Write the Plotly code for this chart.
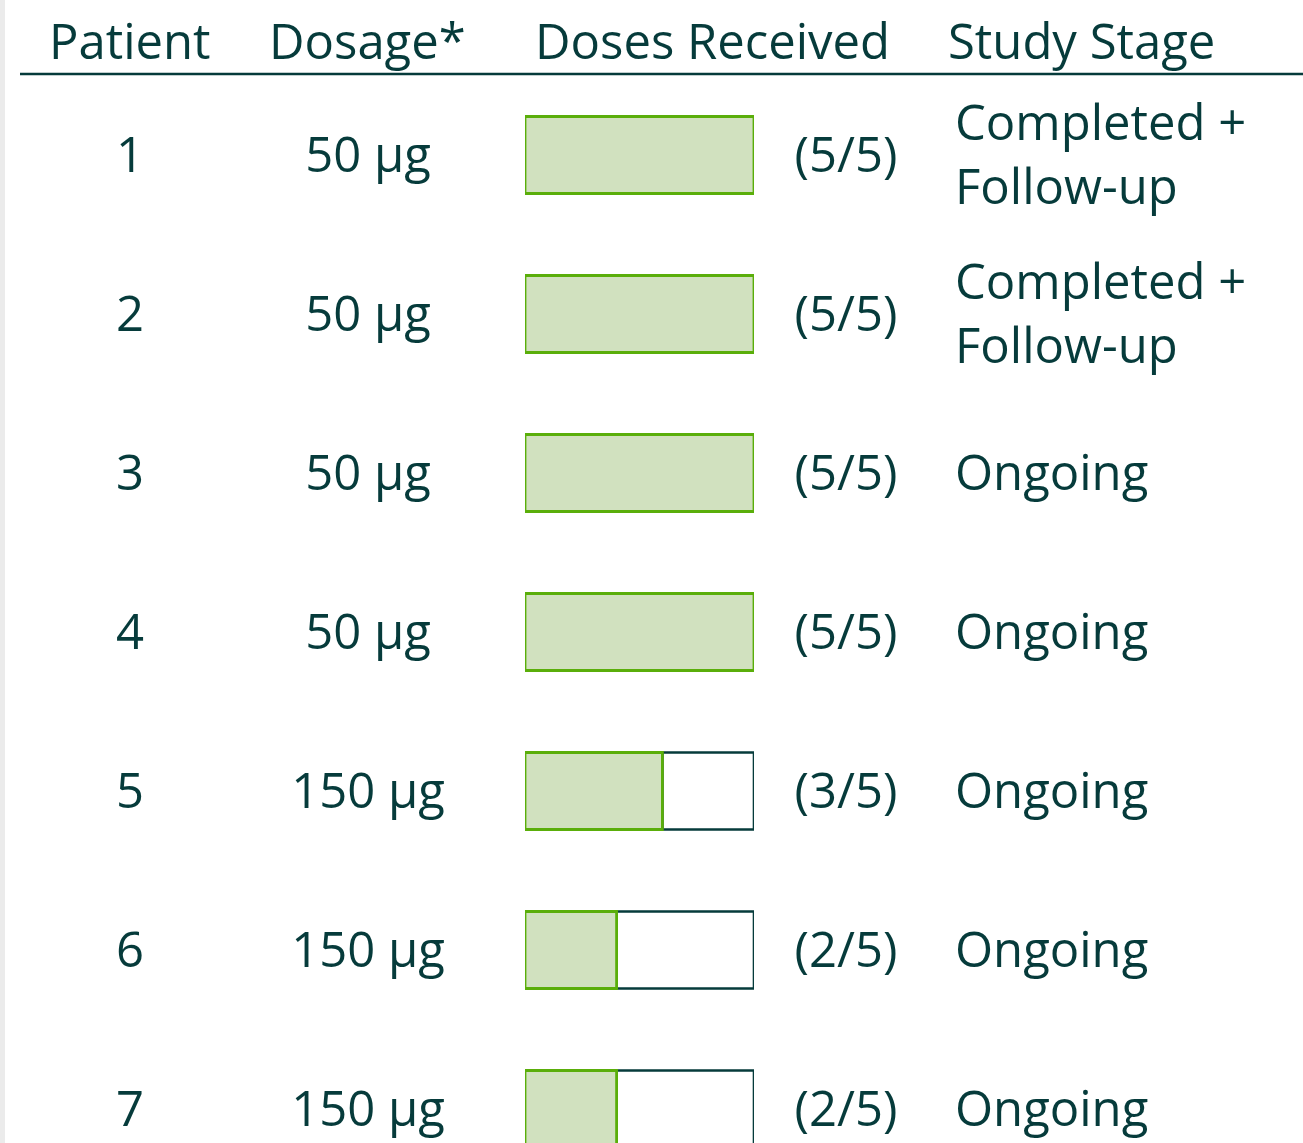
import plotly.graph_objects as go

# ---- data ----
patients = ["1", "2", "3", "4", "5", "6", "7"]
dosages = ["50 µg", "50 µg", "50 µg", "50 µg", "150 µg", "150 µg", "150 µg"]
doses_received = [5, 5, 5, 5, 3, 2, 2]
doses_total = [5, 5, 5, 5, 5, 5, 5]
stages = ["Completed +<br>Follow-up", "Completed +<br>Follow-up",
          "Ongoing", "Ongoing", "Ongoing", "Ongoing", "Ongoing"]
headers = ["Patient", "Dosage*", "Doses Received", "Study Stage"]

# ---- styling ----
W, H = 1303, 1143
TXT = "#063b3b"
GREEN_FILL = "#d1e1bf"
GREEN_LINE = "#5aae0a"
FONT = "Open Sans"
ROW_PX = 159.0

row_y = list(range(1, len(patients) + 1))
fractions = [f"({r}/{t})" for r, t in zip(doses_received, doses_total)]

# y axis: row 1 centre at px 155, rows 159 px apart
y_top = 1 - 155 / ROW_PX
y_bot = 1 + (H - 155) / ROW_PX
txt_dy = 5 / ROW_PX          # small nudge so glyphs sit centred
text_y = [y + txt_dy for y in row_y]

fig = go.Figure()

# remaining (empty) doses
rem = [t - r if t - r > 0 else None for r, t in zip(doses_received, doses_total)]
fig.add_trace(go.Bar(
    y=row_y, x=rem, base=doses_received, orientation="h", width=0.484,
    xaxis="x2", yaxis="y",
    marker=dict(color="white", line=dict(color=TXT, width=2.6)),
    hoverinfo="skip", showlegend=False))
# received doses
fig.add_trace(go.Bar(
    y=row_y, x=doses_received, base=[0] * len(row_y), orientation="h", width=0.484,
    xaxis="x2", yaxis="y",
    marker=dict(color=GREEN_FILL, line=dict(color=GREEN_LINE, width=2.8)),
    hoverinfo="skip", showlegend=False))

tf = dict(family=FONT, size=49, color=TXT)
fig.add_trace(go.Scatter(x=[130] * 7, y=text_y, text=patients, mode="text",
                         textposition="middle center", textfont=tf,
                         hoverinfo="skip", showlegend=False, cliponaxis=False))
fig.add_trace(go.Scatter(x=[368] * 7, y=text_y, text=dosages, mode="text",
                         textposition="middle center", textfont=tf,
                         hoverinfo="skip", showlegend=False, cliponaxis=False))
fig.add_trace(go.Scatter(x=[846] * 7, y=text_y, text=fractions, mode="text",
                         textposition="middle center", textfont=tf,
                         hoverinfo="skip", showlegend=False, cliponaxis=False))
fig.add_trace(go.Scatter(x=[955] * 7, y=text_y, text=stages, mode="text",
                         textposition="middle right", textfont=tf,
                         hoverinfo="skip", showlegend=False, cliponaxis=False))

# header
hx = [130, 367, 712, 946]
hanchor = ["center", "center", "center", "left"]
for t, x, a in zip(headers, hx, hanchor):
    fig.add_annotation(x=x, xref="x", y=1 - 40 / H, yref="paper", text=t,
                       showarrow=False, xanchor=a, yanchor="middle",
                       font=dict(family=FONT, size=49, color=TXT, weight=500))

fig.add_shape(type="line", xref="x", yref="paper", x0=20, x1=W,
              y0=1 - 74 / H, y1=1 - 74 / H, line=dict(color=TXT, width=2.5))
fig.add_shape(type="rect", xref="x", yref="paper", x0=0, x1=5, y0=0, y1=1,
              fillcolor="#ebebeb", line=dict(width=0), layer="below")

fig.update_layout(
    width=W, height=H, margin=dict(l=0, r=0, t=0, b=0),
    paper_bgcolor="white", plot_bgcolor="white", barmode="overlay",
    xaxis=dict(range=[0, W], domain=[0, 1], visible=False, fixedrange=True),
    xaxis2=dict(range=[0, 5], domain=[525 / W, 754 / W], anchor="y",
                visible=False, fixedrange=True),
    yaxis=dict(range=[y_bot, y_top], visible=False, fixedrange=True),
)

fig.write_html("out.html", config={"displayModeBar": False},
               post_script="document.body.style.margin='0px';")
